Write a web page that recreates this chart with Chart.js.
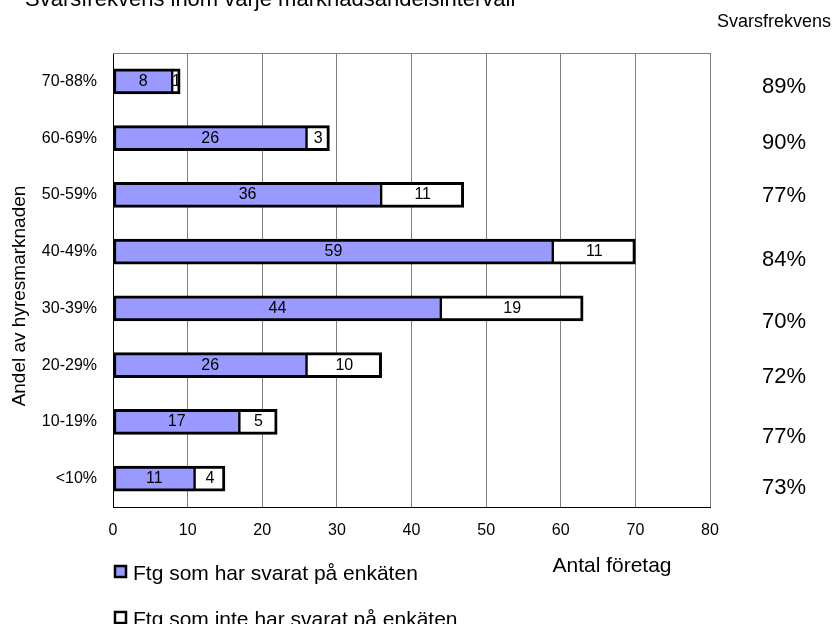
<!DOCTYPE html>
<html>
<head>
<meta charset="utf-8">
<script src="https://cdn.jsdelivr.net/npm/chart.js@4/dist/chart.umd.min.js"></script>
<style>
  body { margin: 0; background: #fff; }
  #wrap { width: 835px; height: 624px; position: relative; }
</style>
</head>
<body>
<div id="wrap"><canvas id="responseChart"></canvas></div>
<script>
// Chart data
const categories = ['70-88%', '60-69%', '50-59%', '40-49%', '30-39%', '20-29%', '10-19%', '<10%'];
const answered = [8, 26, 36, 59, 44, 26, 17, 11];
const notAnswered = [1, 3, 11, 11, 19, 10, 5, 4];
const responseRates = ['89%', '90%', '77%', '84%', '70%', '72%', '77%', '73%'];
const xTicks = [0, 10, 20, 30, 40, 50, 60, 70, 80];

const FONT = '"Liberation Sans", Arial, sans-serif';

// labels inside the bars
const barLabels = {
    id: 'barLabels',
    afterDatasetsDraw(chart) {
        const ctx = chart.ctx;
        ctx.save();
        ctx.font = '16px ' + FONT;
        ctx.fillStyle = '#000';
        ctx.textAlign = 'center';
        ctx.textBaseline = 'middle';
        chart.data.datasets.forEach((ds, di) => {
            chart.getDatasetMeta(di).data.forEach((bar, i) => {
                const mid = (bar.x + bar.base) / 2;
                ctx.fillText(String(ds.data[i]), mid, bar.y);
            });
        });
        ctx.restore();
    }
};

// extra texts: title, side percentages, axis titles, legend
const extras = {
    id: 'extras',
    beforeDatasetsDraw(chart) {
        const a = chart.chartArea;
        const ctx = chart.ctx;
        ctx.save();
        ctx.strokeStyle = '#808080';
        ctx.lineWidth = 1;
        ctx.beginPath();
        ctx.moveTo(a.left, a.top + 0.5);
        ctx.lineTo(a.right, a.top + 0.5);
        ctx.stroke();
        ctx.restore();
    },
    afterDraw(chart, args, opts) {
        const ctx = chart.ctx;
        const y = chart.scales.y;
        ctx.save();
        ctx.fillStyle = '#000';
        ctx.textBaseline = 'alphabetic';

        ctx.font = '22px ' + FONT;
        ctx.textAlign = 'left';
        ctx.fillText('Svarsfrekvens inom varje marknadsandelsintervall', 25, 6);

        ctx.font = '18px ' + FONT;
        ctx.textAlign = 'center';
        ctx.fillText('Svarsfrekvens', 774, 27);

        ctx.font = '22px ' + FONT;
        ctx.textBaseline = 'middle';
        responseRates.forEach((r, i) => {
            ctx.fillText(r, 784, y.getPixelForValue(i) + opts.rateOffsets[i]);
        });

        ctx.textBaseline = 'alphabetic';
        ctx.font = '21px ' + FONT;
        ctx.fillText('Antal företag', 612, 572);

        ctx.save();
        ctx.translate(25, 296);
        ctx.rotate(-Math.PI / 2);
        ctx.font = '19px ' + FONT;
        ctx.fillText('Andel av hyresmarknaden', 0, 0);
        ctx.restore();

        // legend
        const items = [
            { text: 'Ftg som har svarat på enkäten', fill: '#9999FF', y: 566 },
            { text: 'Ftg som inte har svarat på enkäten', fill: '#FFFFFF', y: 612 }
        ];
        ctx.font = '21px ' + FONT;
        ctx.textAlign = 'left';
        items.forEach(it => {
            ctx.fillStyle = it.fill;
            ctx.fillRect(115, it.y, 11, 11);
            ctx.strokeStyle = '#000';
            ctx.lineWidth = 2.5;
            ctx.strokeRect(115, it.y, 11, 11);
            ctx.fillStyle = '#000';
            ctx.fillText(it.text, 133, it.y + 14);
        });
        ctx.restore();
    }
};

function initResponseChart() {
    const ctx = document.getElementById('responseChart');
    if (!ctx) return;

    new Chart(ctx, {
        type: 'bar',
        data: {
            labels: categories,
            datasets: [{
                label: 'Ftg som har svarat på enkäten',
                data: answered,
                backgroundColor: '#9999FF',
                borderColor: '#000',
                borderWidth: { left: 3, right: 2, top: 3, bottom: 3 },
                borderSkipped: false,
                barThickness: 25
            }, {
                label: 'Ftg som inte har svarat på enkäten',
                data: notAnswered,
                backgroundColor: '#FFFFFF',
                borderColor: '#000',
                borderWidth: { left: 1, right: 3, top: 3, bottom: 3 },
                borderSkipped: false,
                barThickness: 25
            }]
        },
        options: {
            indexAxis: 'y',
            responsive: true,
            maintainAspectRatio: false,
            animation: false,
            layout: {
                padding: { top: 53, right: 125, left: 0, bottom: 0 }
            },
            scales: {
                x: {
                    stacked: true,
                    min: 0,
                    max: 80,
                    afterBuildTicks: scale => {
                        scale.ticks = xTicks.map(v => ({ value: v }));
                    },
                    afterFit: scale => { scale.height = 117; },
                    grid: { color: '#808080', lineWidth: 1, drawTicks: false },
                    border: { color: '#000', width: 1 },
                    ticks: {
                        padding: 14,
                        color: '#000',
                        font: { family: FONT, size: 16 }
                    }
                },
                y: {
                    stacked: true,
                    afterFit: scale => { scale.width = 113; },
                    grid: { color: 'rgba(0,0,0,0)', drawTicks: false },
                    border: { color: '#000', width: 1 },
                    ticks: {
                        padding: 16,
                        color: '#000',
                        font: { family: FONT, size: 16 }
                    }
                }
            },
            plugins: {
                legend: { display: false },
                tooltip: { enabled: false },
                extras: { rateOffsets: [6, 5, 1, 8, 14, 12, 15, 9] }
            }
        },
        plugins: [barLabels, extras]
    });
}

initResponseChart();
</script>
</body>
</html>
